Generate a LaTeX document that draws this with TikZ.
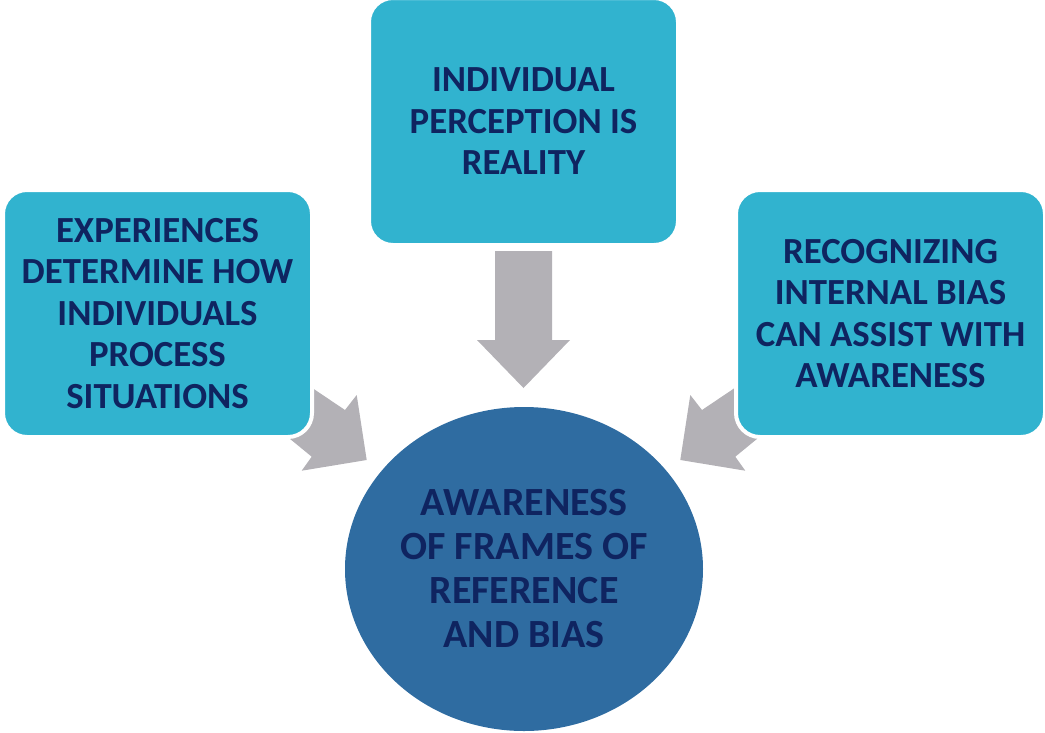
\documentclass[tikz,border=0pt]{standalone}
\usepackage{fontspec}
\setmainfont{Carlito}
\usetikzlibrary{shapes.geometric}
\definecolor{boxc}{HTML}{31B3CF}
\definecolor{circc}{HTML}{2F6CA1}
\definecolor{txtc}{HTML}{0F2460}
\definecolor{arrc}{HTML}{B3B1B6}
\tikzset{
  infobox/.style={rectangle, rounded corners=24pt, fill=boxc, draw=white, line width=4pt,
    minimum width=309pt, minimum height=247pt, align=center, text=txtc,
    font=\fontsize{36.8}{41.5}\selectfont\bfseries},
  hub/.style={ellipse, fill=circc, draw=none, minimum width=358pt, minimum height=324pt,
    align=center, text=txtc, inner sep=0pt, font=\fontsize{40}{44}\selectfont\bfseries},
  blockarrow/.style={fill=arrc, draw=none}
}
\begin{document}
\begin{tikzpicture}[x=1pt,y=-1pt]
\useasboundingbox (0,0) rectangle (1045,732);
% block arrows (drawn first, boxes cover their tails)
\fill[blockarrow] (290,373) -- (345,410) -- (356.7,395) -- (366.7,460) -- (301.7,470.7) -- (311.7,456.7) -- (270,422.5) -- cycle;
\fill[blockarrow] (757,373) -- (702,410) -- (690.3,395) -- (680.3,460) -- (745.3,470.7) -- (735.3,456.7) -- (777,422.5) -- cycle;
\fill[blockarrow] (495,251) -- (552,251) -- (552,340) -- (570,340) -- (523.5,388) -- (477,340) -- (495,340) -- cycle;
% boxes
\node[infobox] (top) at (523.5,121.5) {INDIVIDUAL\\PERCEPTION IS\\REALITY};
\node[infobox] (left) at (157.5,313.5) {EXPERIENCES\\DETERMINE HOW\\INDIVIDUALS\\PROCESS\\SITUATIONS};
\node[infobox] (right) at (890.5,313.5) {RECOGNIZING\\INTERNAL BIAS\\CAN ASSIST WITH\\AWARENESS};
% hub
\node[hub] (hub) at (524,569) {AWARENESS\\OF FRAMES OF\\REFERENCE\\AND BIAS};
\end{tikzpicture}
\end{document}
